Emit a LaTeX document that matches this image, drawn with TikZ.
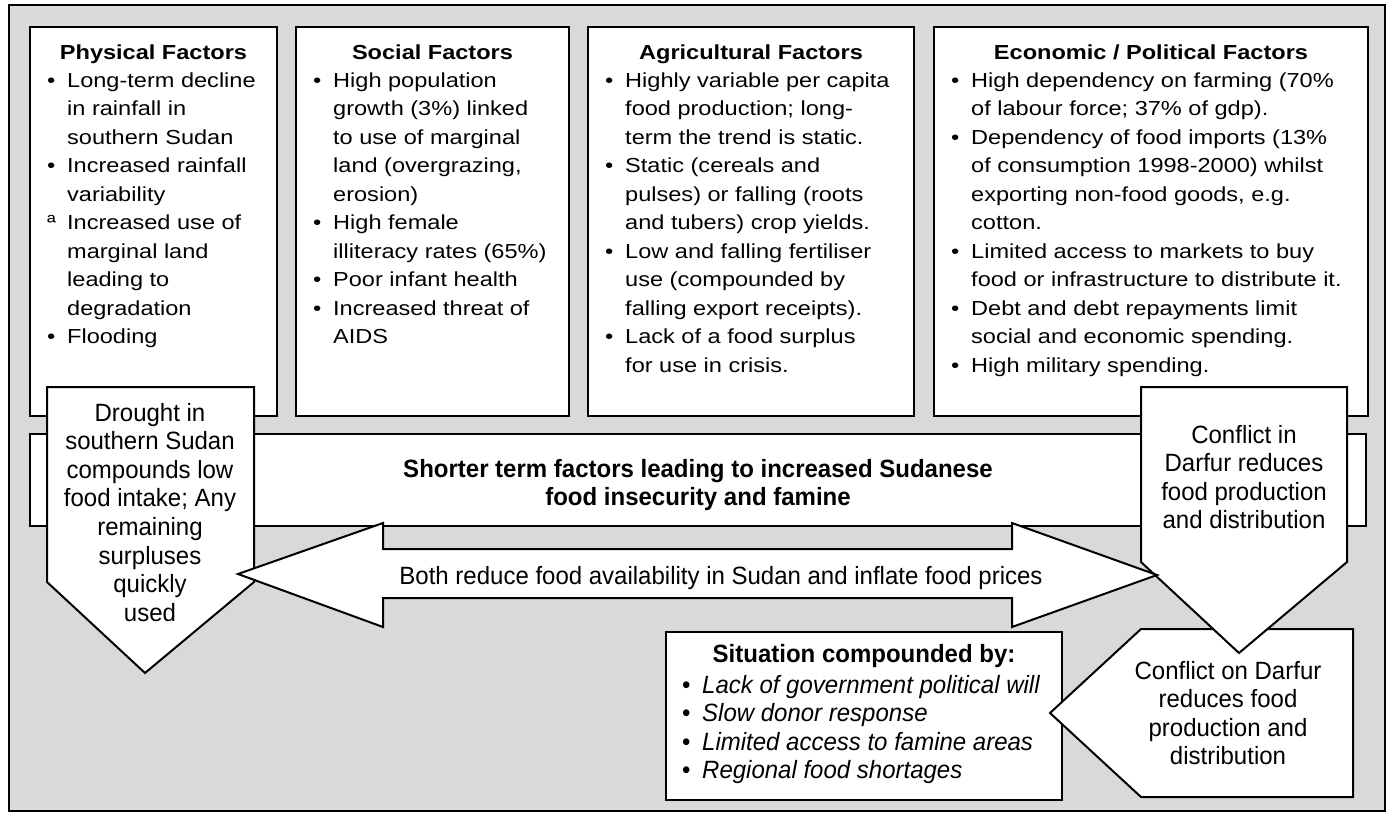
\documentclass[tikz,border=0pt]{standalone}
\usepackage{fontspec}
\setmainfont{Liberation Sans}[FakeStretch=1.16]
\newfontfamily\narrowfont{Liberation Sans}[FakeStretch=0.96]
\usepackage{xcolor}
\usetikzlibrary{positioning}

\definecolor{panelgray}{HTML}{D9D9D9}
\newcommand{\widesize}{\fontsize{20.3}{28.5}\selectfont}
\newcommand{\narrowsize}{\narrowfont\fontsize{25}{28.6}\selectfont}
\newcommand{\ctrlines}[1]{\begin{tabular}[t]{@{}c@{}}#1\end{tabular}}
\newcommand{\bullist}[1]{\begin{tabular}[t]{@{}p{20pt}@{}l@{}}#1\end{tabular}}

\tikzset{
  factorbox/.style={draw, fill=white, line width=2pt, inner sep=0pt},
  shapeline/.style={draw, fill=white, line width=2pt, line join=miter},
  boxtitle/.style={anchor=base, font=\widesize\bfseries, inner sep=0pt},
  boxlist/.style={anchor=base west, font=\widesize, inner sep=0pt},
  arrowtext/.style={anchor=base, font=\narrowsize, inner sep=0pt},
}

\begin{document}
\begin{tikzpicture}[x=1pt, y=-1pt]
        \useasboundingbox (0,0) rectangle (1390,814);
        % Background panel
        \draw[fill=panelgray, line width=1.5pt] (9,5) rectangle (1385,811);

        % Long term factor boxes
        \node[factorbox, minimum width=247pt, minimum height=389pt, anchor=north west] (phys) at (29,26) {};
        \node[factorbox, minimum width=273pt, minimum height=389pt, anchor=north west] (social) at (295,26) {};
        \node[factorbox, minimum width=326pt, minimum height=389pt, anchor=north west] (agri) at (587,26) {};
        \node[factorbox, minimum width=434pt, minimum height=389pt, anchor=north west] (econ) at (933,26) {};

        \node[boxtitle] (physTitle) at ([yshift=-33pt]phys.north) {Physical Factors};
        \node[boxlist] (physList) at ([xshift=18pt,yshift=-61pt]phys.north west) {\bullist{
          \textbullet & Long-term decline\\
                      & in rainfall in\\
                      & southern Sudan\\
          \textbullet & Increased rainfall\\
                      & variability\\
          ª           & Increased use of\\
                      & marginal land\\
                      & leading to\\
                      & degradation\\
          \textbullet & Flooding}};

        \node[boxtitle] (socialTitle) at ([yshift=-33pt]social.north) {Social Factors};
        \node[boxlist] (socialList) at ([xshift=18pt,yshift=-61pt]social.north west) {\bullist{
          \textbullet & High population\\
                      & growth (3\%) linked\\
                      & to use of marginal\\
                      & land (overgrazing,\\
                      & erosion)\\
          \textbullet & High female\\
                      & illiteracy rates (65\%)\\
          \textbullet & Poor infant health\\
          \textbullet & Increased threat of\\
                      & AIDS}};

        \node[boxtitle] (agriTitle) at ([yshift=-33pt]agri.north) {Agricultural Factors};
        \node[boxlist] (agriList) at ([xshift=18pt,yshift=-61pt]agri.north west) {\bullist{
          \textbullet & Highly variable per capita\\
                      & food production; long-\\
                      & term the trend is static.\\
          \textbullet & Static (cereals and\\
                      & pulses) or falling (roots\\
                      & and tubers) crop yields.\\
          \textbullet & Low and falling fertiliser\\
                      & use (compounded by\\
                      & falling export receipts).\\
          \textbullet & Lack of a food surplus\\
                      & for use in crisis.}};

        \node[boxtitle] (econTitle) at ([yshift=-33pt]econ.north) {Economic / Political Factors};
        \node[boxlist] (econList) at ([xshift=18pt,yshift=-61pt]econ.north west) {\bullist{
          \textbullet & High dependency on farming (70\%\\
                      & of labour force; 37\% of gdp).\\
          \textbullet & Dependency of food imports (13\%\\
                      & of consumption 1998-2000) whilst\\
                      & exporting non-food goods, e.g.\\
                      & cotton.\\
          \textbullet & Limited access to markets to buy\\
                      & food or infrastructure to distribute it.\\
          \textbullet & Debt and debt repayments limit\\
                      & social and economic spending.\\
          \textbullet & High military spending.}};

        % Shorter term band
        \node[factorbox, minimum width=1336pt, minimum height=92pt, anchor=north west] (band) at (29,433) {};
        \node[arrowtext, font=\narrowsize\bfseries] (bandText) at (698,477) {\ctrlines{%
          Shorter term factors leading to increased Sudanese\\
          food insecurity and famine}};

        % Compounding factors
        \node[factorbox, minimum width=396pt, minimum height=168pt, anchor=north west] (situation) at (665,631) {};
        \node[arrowtext, font=\narrowsize\bfseries] (situationTitle) at ([yshift=-31pt]situation.north) {Situation compounded by:};
        \node[arrowtext, anchor=base west] (situationList) at ([xshift=17pt,yshift=-62pt]situation.north west) {\bullist{
          \textbullet & \itshape Lack of government political will\\
          \textbullet & \itshape Slow donor response\\
          \textbullet & \itshape Limited access to famine areas\\
          \textbullet & \itshape Regional food shortages}};

        % Drought arrow
        \draw[shapeline] (47,387) -- (254,387) -- (254,582) -- (145,673) -- (47,582) -- cycle;
        \node[arrowtext] (drought) at (150,421) {\ctrlines{%
          Drought in\\ southern Sudan\\ compounds low\\ food intake; Any\\
          remaining\\ surpluses\\ quickly\\ used}};

        % Conflict arrows
        \draw[shapeline] (1141,629) -- (1353,629) -- (1353,797) -- (1141,797) -- (1050,713) -- cycle;
        \node[arrowtext] (conflictOn) at (1228,679) {\ctrlines{%
          Conflict on Darfur\\ reduces food\\ production and\\ distribution}};

        \draw[shapeline] (1141,387) -- (1347,387) -- (1347,562) -- (1239,653) -- (1141,562) -- cycle;
        \node[arrowtext] (conflictIn) at (1244,443) {\ctrlines{%
          Conflict in\\ Darfur reduces\\ food production\\ and distribution}};

        % Double arrow between drought and conflict
        \draw[shapeline] (238,574) -- (383,523) -- (383,549) -- (1012,549) -- (1012,523)
          -- (1157,575) -- (1012,627) -- (1012,598) -- (383,598) -- (383,627) -- cycle;
        \node[arrowtext] (availability) at (721,584) {Both reduce food availability in Sudan and inflate food prices};
    \end{tikzpicture}
\end{document}
